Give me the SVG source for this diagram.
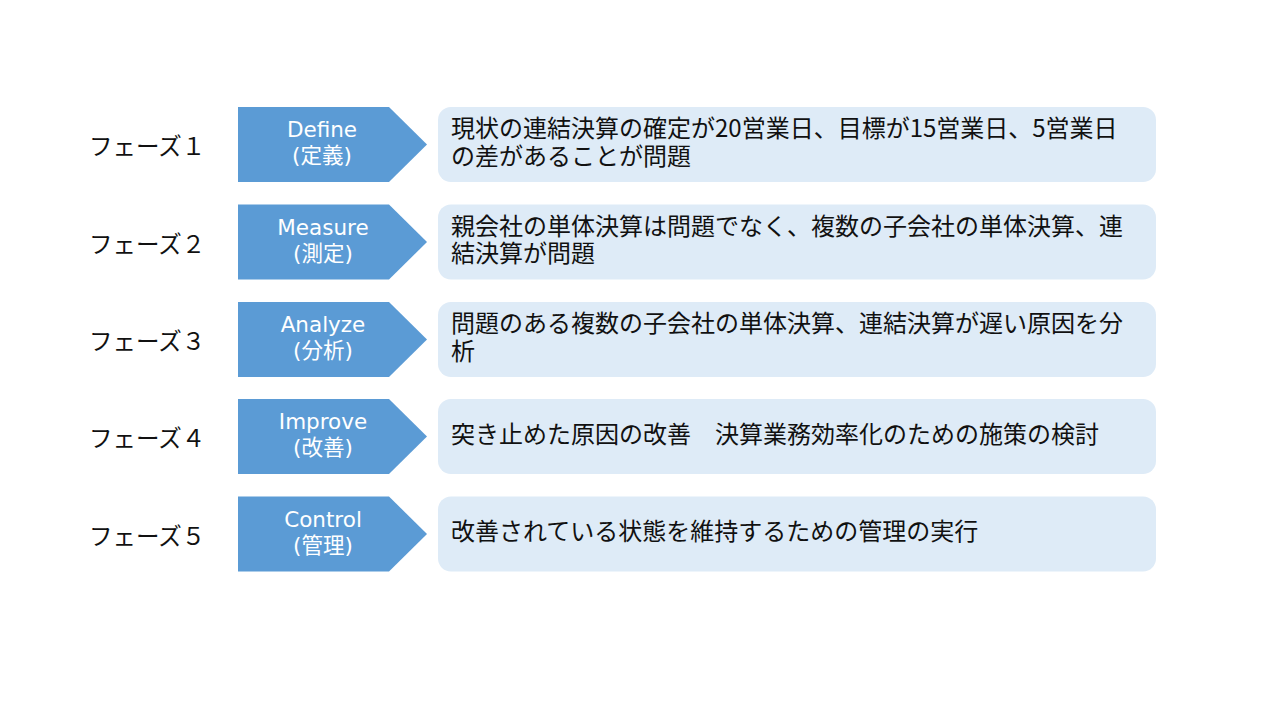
<svg xmlns="http://www.w3.org/2000/svg" width="1280" height="720" viewBox="0 0 1280 720">
<defs>
<style>
.bg{fill:#ffffff}
.arrow{fill:#5B9BD5}
.box{fill:#DEEBF7}
.phase{font-family:"Noto Sans CJK JP","Noto Sans",sans-serif;font-size:23.5px;fill:#111111}
.atxt{font-family:"DejaVu Sans","Noto Sans CJK JP",sans-serif;font-size:21.5px;fill:#ffffff;text-anchor:middle}
.desc{font-family:"Noto Sans CJK JP","Noto Sans",sans-serif;font-size:24px;fill:#111111}
</style>
<path id="chev" d="M0 0 H151 L189 37.5 L151 75 H0 Z"/>
</defs>
<rect class="bg" x="0" y="0" width="1280" height="720"/>
<g id="connectors"/>
<g id="phase1" transform="translate(0,107)">
<text class="phase" x="89" y="48">フェーズ１</text>
<use href="#chev" class="arrow" x="238" y="0"/>
<text class="atxt" x="322" y="30">Define<tspan x="322" dy="26">(定義)</tspan></text>
<rect class="box" x="438" y="0" width="718" height="75" rx="13" ry="13"/>
<text class="desc" x="451" y="30">現状の連結決算の確定が20営業日、目標が15営業日、5営業日<tspan x="451" dy="27.5">の差があることが問題</tspan></text>
</g>
<g id="phase2" transform="translate(0,204.5)">
<text class="phase" x="89" y="48">フェーズ２</text>
<use href="#chev" class="arrow" x="238" y="0"/>
<text class="atxt" x="323" y="30">Measure<tspan x="323" dy="26">(測定)</tspan></text>
<rect class="box" x="438" y="0" width="718" height="75" rx="13" ry="13"/>
<text class="desc" x="451" y="30">親会社の単体決算は問題でなく、複数の子会社の単体決算、連<tspan x="451" dy="27.5">結決算が問題</tspan></text>
</g>
<g id="phase3" transform="translate(0,302)">
<text class="phase" x="89" y="48">フェーズ３</text>
<use href="#chev" class="arrow" x="238" y="0"/>
<text class="atxt" x="323" y="30">Analyze<tspan x="323" dy="26">(分析)</tspan></text>
<rect class="box" x="438" y="0" width="718" height="75" rx="13" ry="13"/>
<text class="desc" x="451" y="30">問題のある複数の子会社の単体決算、連結決算が遅い原因を分<tspan x="451" dy="27.5">析</tspan></text>
</g>
<g id="phase4" transform="translate(0,399)">
<text class="phase" x="89" y="48">フェーズ４</text>
<use href="#chev" class="arrow" x="238" y="0"/>
<text class="atxt" x="323" y="30">Improve<tspan x="323" dy="26">(改善)</tspan></text>
<rect class="box" x="438" y="0" width="718" height="75" rx="13" ry="13"/>
<text class="desc" x="451" y="43.5">突き止めた原因の改善　決算業務効率化のための施策の検討</text>
</g>
<g id="phase5" transform="translate(0,496.5)">
<text class="phase" x="89" y="48">フェーズ５</text>
<use href="#chev" class="arrow" x="238" y="0"/>
<text class="atxt" x="323" y="30">Control<tspan x="323" dy="26">(管理)</tspan></text>
<rect class="box" x="438" y="0" width="718" height="75" rx="13" ry="13"/>
<text class="desc" x="451" y="43.5">改善されている状態を維持するための管理の実行</text>
</g>
</svg>
